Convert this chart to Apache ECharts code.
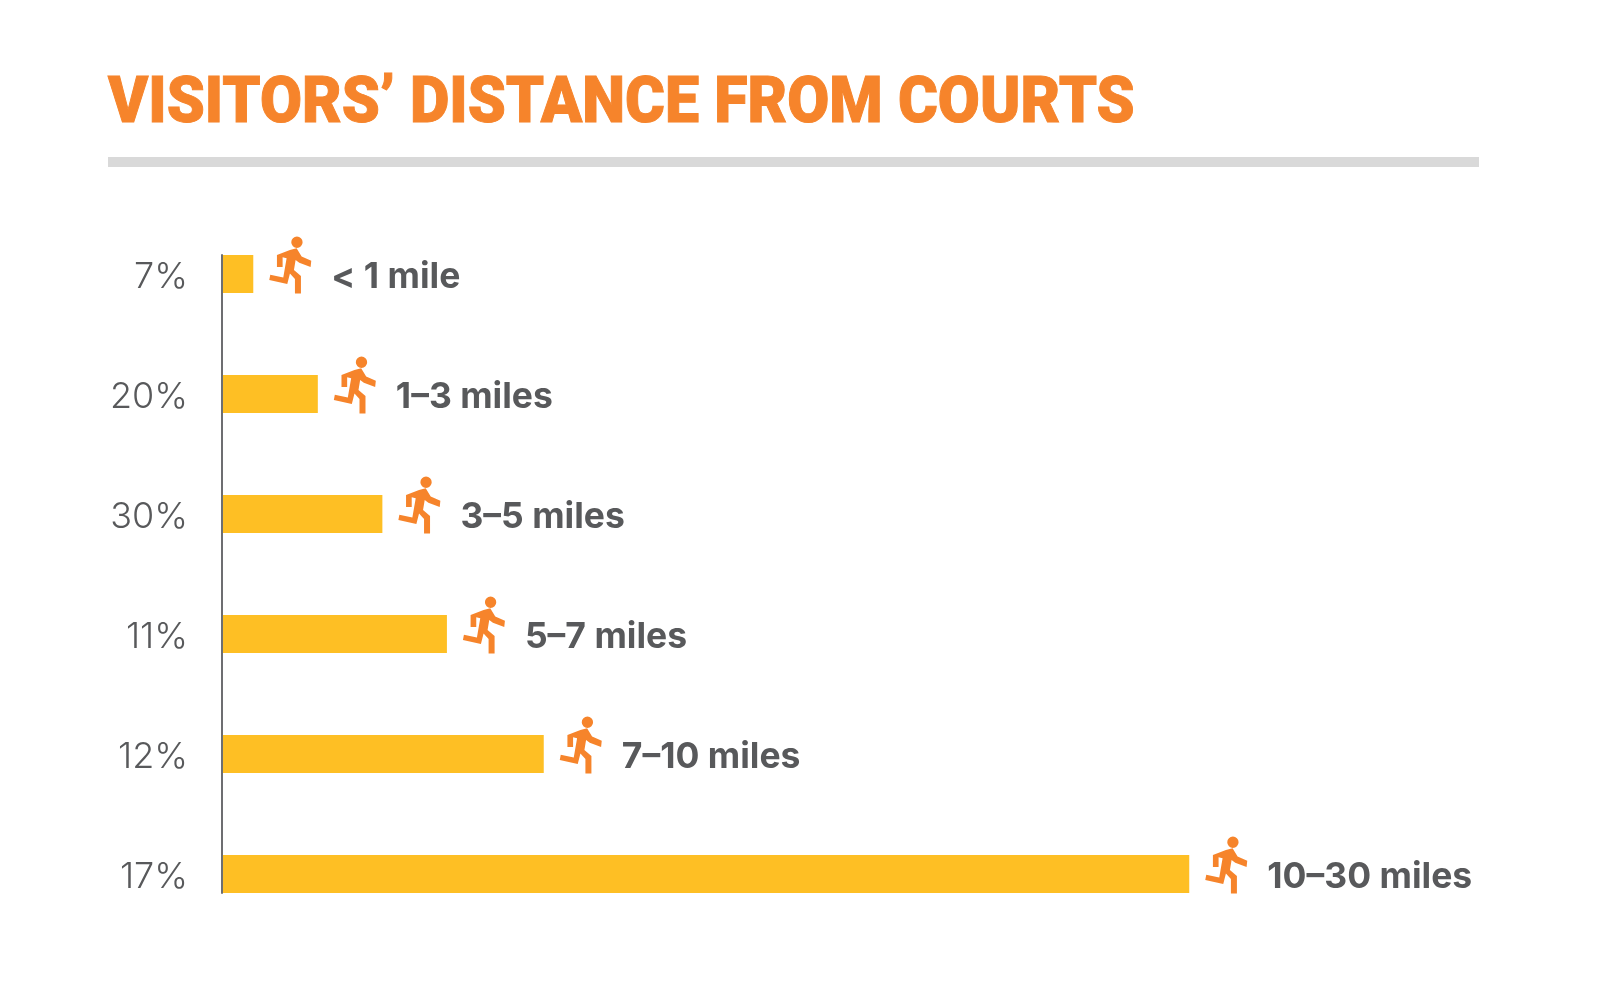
<!DOCTYPE html>
<html><head><meta charset="utf-8">
<style>html,body{margin:0;padding:0;background:#fff}#c{width:1600px;height:998px}</style>
<script src="https://cdn.jsdelivr.net/npm/echarts@6/dist/echarts.min.js"></script>
</head><body><div id="c"></div>
<script>
const titleText = "VISITORS’ DISTANCE FROM COURTS";
const percentLabels = ["7%","20%","30%","11%","12%","17%"];
const distanceLabels = ["< 1 mile","1–3 miles","3–5 miles","5–7 miles","7–10 miles","10–30 miles"];
const barValues = [1,3,5,7,10,30];
const runner = "path://M66 17a17 17 0 1 0 34 0a17 17 0 1 0 -34 0Z M23 55L62 40L82 35L97 60L126 72L124 91L90 78L79 70L74 100L95 118L95 170L77 170L77 127L62 110L54 142L0 130L3 114L42 122L52 65L40 62L40 91L23 91Z";
const chart = echarts.init(document.getElementById('c'), null, {renderer:'canvas'});
chart.setOption({
  animation:false,
  backgroundColor:'#fff',
  graphic:[
    {type:'rect',shape:{x:108,y:157,width:1371,height:10},style:{fill:'#d9d9d9'},silent:true},
    {type:'text',x:108,y:106,scaleX:0.923,scaleY:0.97,style:{text:titleText,font:'900 66px Roboto',fill:'#f6842b',stroke:'#f6842b',lineWidth:1,textVerticalAlign:'middle',textBaseline:'middle'},silent:true}
  ],
  grid:[{left:221,top:214,width:1291,height:720},{left:221.5,top:255,width:1290,height:638}],
  xAxis:[{type:'value',min:0,max:40,show:false},{gridIndex:1,type:'value',show:false}],
  yAxis:[
    {type:'category',inverse:true,data:percentLabels,axisLine:{show:false},axisTick:{show:false},
     axisLabel:{margin:33,verticalAlign:'top',lineHeight:6,fontFamily:'Inter',fontWeight:300,fontSize:36,color:'#58595b'}},
    {gridIndex:1,type:'value',min:0,max:1,axisLine:{show:true,onZero:false,lineStyle:{color:'#6d6e71',width:2}},axisTick:{show:false},axisLabel:{show:false},splitLine:{show:false},z:5}
  ],
  series:[
    {type:'bar',data:barValues,barWidth:38,itemStyle:{color:'#febf24'},
     label:{show:true,position:'right',distance:78,offset:[0,3],formatter:p=>distanceLabels[p.dataIndex],
            fontFamily:'Inter',fontWeight:700,fontSize:35.5,color:'#58595b'}},
    {type:'scatter',data:barValues.map((v,i)=>[v,percentLabels[i]]),symbol:runner,symbolSize:[42,57],symbolKeepAspect:false,
     symbolOffset:[37,-9],itemStyle:{color:'#f6842b',opacity:1},z:3}
  ]
});
</script></body></html>
